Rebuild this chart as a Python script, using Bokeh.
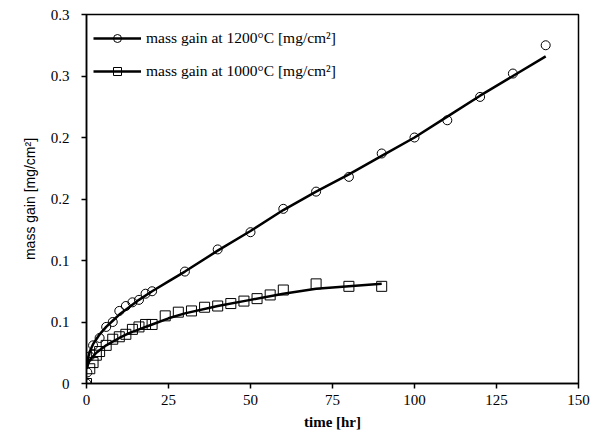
from bokeh.plotting import figure
from bokeh.models import Range1d, FixedTicker, Legend, LegendItem
from bokeh.embed import file_html
from bokeh.resources import INLINE

# ---- data ----
t_1200 = [0, 0.25, 1, 2, 4, 6, 8, 10, 12, 14, 16, 18, 20, 30, 40, 50, 60, 70, 80, 90, 100, 110, 120, 130, 140]
v_1200 = [0, 0.009, 0.022, 0.031, 0.037, 0.046, 0.050, 0.059, 0.063, 0.066, 0.068, 0.073, 0.075, 0.091,
          0.109, 0.123, 0.142, 0.156, 0.168, 0.187, 0.200, 0.214, 0.233, 0.252, 0.275]

t_1000 = [0, 1, 2, 3, 4, 6, 8, 10, 12, 14, 16, 18, 20, 24, 28, 32, 36, 40, 44, 48, 52, 56, 60, 70, 80, 90]
v_1000 = [0, 0.012, 0.017, 0.023, 0.026, 0.031, 0.036, 0.038, 0.040, 0.044, 0.046, 0.048, 0.048, 0.055,
          0.058, 0.059, 0.062, 0.063, 0.065, 0.067, 0.069, 0.072, 0.076, 0.081, 0.079, 0.079]

fit_1200_t = [0, 0.5, 1, 2, 3, 4, 6, 8, 10, 13, 16, 20, 25, 30, 40, 50, 60, 70, 80, 90, 100, 110, 120, 130, 140]
fit_1200_v = [0.013, 0.021, 0.026, 0.032, 0.036, 0.040, 0.046, 0.051, 0.056, 0.062, 0.068, 0.075, 0.083, 0.091,
              0.108, 0.124, 0.141, 0.156, 0.170, 0.185, 0.200, 0.217, 0.234, 0.250, 0.266]

fit_1000_t = [0, 0.5, 1, 2, 3, 4, 6, 8, 10, 13, 16, 20, 25, 30, 40, 50, 60, 70, 80, 90]
fit_1000_v = [0.012, 0.016, 0.019, 0.022, 0.025, 0.027, 0.031, 0.034, 0.037, 0.041, 0.044, 0.048, 0.053, 0.057,
              0.063, 0.068, 0.073, 0.077, 0.079, 0.081]

x_ticks = [0, 25, 50, 75, 100, 125, 150]
y_ticks = [0, 0.05, 0.1, 0.15, 0.2, 0.25, 0.3]
y_tick_labels = ["0", "0.1", "0.1", "0.2", "0.2", "0.3", "0.3"]

label_1200 = "mass gain at 1200°C [mg/cm²]"
label_1000 = "mass gain at 1000°C [mg/cm²]"

SERIF = "Liberation Serif"

p = figure(width=592, height=433, output_backend="svg", toolbar_location=None,
           x_range=Range1d(0, 150), y_range=Range1d(0, 0.3))
p.min_border_left = 86
p.min_border_right = 14
p.min_border_top = 14
p.min_border_bottom = 50

p.grid.visible = False
p.outline_line_color = "black"
p.outline_line_width = 1.5
p.background_fill_color = "white"
p.border_fill_color = "white"

for ax in (p.xaxis[0], p.yaxis[0]):
    ax.axis_line_width = 1.5
    ax.axis_line_color = "black"
    ax.major_tick_line_width = 1.5
    ax.major_tick_line_color = "black"
    ax.major_tick_out = 5
    ax.major_tick_in = 0
    ax.minor_tick_line_color = None
    ax.major_label_text_font = SERIF
    ax.major_label_text_font_size = "15px"
    ax.major_label_text_color = "black"
    ax.axis_label_text_color = "black"

p.xaxis.ticker = FixedTicker(ticks=x_ticks)
p.yaxis.ticker = FixedTicker(ticks=y_ticks)
p.yaxis.major_label_overrides = {t: l for t, l in zip(y_ticks, y_tick_labels)}
p.xaxis.major_label_standoff = 6
p.yaxis.major_label_standoff = 12

p.xaxis.axis_label = "time [hr]"
p.xaxis.axis_label_text_font = SERIF
p.xaxis.axis_label_text_font_style = "bold"
p.xaxis.axis_label_text_font_size = "15px"
p.xaxis.axis_label_standoff = 6

p.yaxis.axis_label = "mass gain [mg/cm²]"
p.yaxis.axis_label_text_font = "Liberation Sans"
p.yaxis.axis_label_text_font_style = "normal"
p.yaxis.axis_label_text_font_size = "14px"
p.yaxis.axis_label_standoff = 10

l1 = p.line(fit_1200_t, fit_1200_v, line_color="black", line_width=2.5)
s1 = p.scatter(t_1200, v_1200, marker="circle", size=9, fill_color=None, line_color="black", line_width=1)
l2 = p.line(fit_1000_t, fit_1000_v, line_color="black", line_width=2.5)
s2 = p.scatter(t_1000, v_1000, marker="square", size=10, fill_color=None, line_color="black", line_width=1)

legend = Legend(items=[LegendItem(label=label_1200, renderers=[l1, s1]),
                       LegendItem(label=label_1000, renderers=[l2, s2])],
                location=(7, 302))
legend.margin = 0
legend.padding = 0
legend.spacing = 13
legend.glyph_width = 48
legend.glyph_height = 20
legend.label_height = 20
legend.label_standoff = 5
legend.label_text_font = SERIF
legend.label_text_font_size = "15.5px"
legend.label_text_color = "black"
legend.border_line_color = None
legend.background_fill_alpha = 0
p.add_layout(legend)

open("out.html", "w").write(file_html(p, INLINE))
